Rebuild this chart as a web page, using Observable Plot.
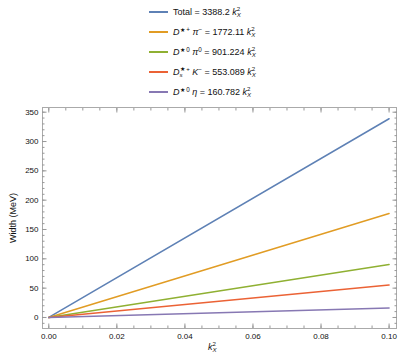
<!DOCTYPE html>
<html>
<head>
<meta charset="utf-8">
<script src="https://cdn.jsdelivr.net/npm/d3@7"></script>
<script src="https://cdn.jsdelivr.net/npm/@observablehq/plot@0.6"></script>
<style>
  html, body { margin: 0; padding: 0; background: #fff; }
  #wrap { position: relative; width: 407px; height: 359px; font-family: "Liberation Sans", Arial, sans-serif; }
  #legend { position: absolute; left: 149px; top: 2px; font-size: 9px; color: #111; }
  .row { display: flex; align-items: center; height: 20px; }
  .sw { width: 19px; height: 2px; margin-right: 5px; flex: none; }
  .ss { display: inline-block; vertical-align: -0.35em; line-height: 0.95em; font-size: 68%; text-align: left; }
  sup.s { font-size: 70%; vertical-align: 0.45em; line-height: 0; }
  #xlab { position: absolute; left: 208px; top: 341px; font-size: 9px; color: #111; }
  svg { display: block; }
</style>
</head>
<body>
<div id="wrap"><div id="chart"></div><div id="legend"></div><div id="xlab"><i>k</i><span class="ss">2<br><i>X</i></span></div></div>
<script>
const seriesNames = ["Total", "D*+ π−", "D*0 π0", "Ds*+ K−", "D*0 η"];
const seriesHtml = [
  "Total",
  "<i>D</i><sup class='s'>★ +</sup> <i>π</i><sup class='s'>−</sup>",
  "<i>D</i><sup class='s'>★ 0</sup> <i>π</i><sup class='s'>0</sup>",
  "<i>D</i><span class='ss'>★ +<br><i>s</i></span> <i>K</i><sup class='s'>−</sup>",
  "<i>D</i><sup class='s'>★ 0</sup> <i>η</i>"
];
const coefficients = ["3388.2", "1772.11", "901.224", "553.089", "160.782"];
const colors = ["#5E81B5", "#E19C24", "#8FB032", "#EB6235", "#8778B3"];
const kx2 = [0, 0.1];
const widthTotal = [0, 338.82];
const widthDpPim = [0, 177.211];
const widthD0Pi0 = [0, 90.1224];
const widthDsK = [0, 55.3089];
const widthD0Eta = [0, 16.0782];
const widths = [widthTotal, widthDpPim, widthD0Pi0, widthDsK, widthD0Eta];

const xMajor = [0, 0.02, 0.04, 0.06, 0.08, 0.10];
const xMinor = d3.range(0, 0.1001, 0.005);
const yMajor = [0, 50, 100, 150, 200, 250, 300, 350];
const yMinor = d3.range(-10, 351, 10);

const rows = [];
seriesNames.forEach((s, i) => kx2.forEach((x, j) => rows.push({series: s, x, y: widths[i][j]})));

const tickColor = "#999";
const chart = Plot.plot({
  width: 407,
  height: 359,
  marginTop: 107,
  marginBottom: 31,
  marginLeft: 42,
  marginRight: 11,
  style: {fontFamily: "'Liberation Sans', Arial, sans-serif", fontSize: "8px", color: "#111"},
  x: {domain: [-0.00185, 0.10218]},
  y: {domain: [-18.8, 358]},
  color: {domain: seriesNames, range: colors},
  marks: [
    Plot.frame({stroke: "#aaa"}),
    Plot.axisX(xMinor, {anchor: "bottom", tickSize: -2.5, text: null, stroke: tickColor, label: null}),
    Plot.axisX(xMajor, {anchor: "bottom", tickSize: -4.5, text: null, stroke: tickColor, label: null}),
    Plot.axisX(xMinor, {anchor: "top", tickSize: -2.5, text: null, stroke: tickColor, label: null}),
    Plot.axisX(xMajor, {anchor: "top", tickSize: -4.5, text: null, stroke: tickColor, label: null}),
    Plot.axisY(yMinor, {anchor: "left", tickSize: -2.5, text: null, stroke: tickColor, label: null}),
    Plot.axisY(yMajor, {anchor: "left", tickSize: -4.5, text: null, stroke: tickColor, label: null}),
    Plot.axisY(yMinor, {anchor: "right", tickSize: -2.5, text: null, stroke: tickColor, label: null}),
    Plot.axisY(yMajor, {anchor: "right", tickSize: -4.5, text: null, stroke: tickColor, label: null}),
    Plot.axisX(xMajor, {anchor: "bottom", tickSize: 0, tickPadding: 5, tickFormat: d3.format(".2f"), label: null, fill: "#111"}),
    Plot.axisY(yMajor, {anchor: "left", tickSize: 0, tickPadding: 4, label: "Width (MeV)", labelAnchor: "center", labelArrow: "none", labelOffset: 33, fill: "#111"}),
    Plot.line(rows, {x: "x", y: "y", z: "series", stroke: "series", strokeWidth: 1.5})
  ]
});
chart.querySelectorAll("[aria-label='y-axis label'] text").forEach(t => t.setAttribute("font-size", "9px"));
document.getElementById("chart").append(chart);

const legend = document.getElementById("legend");
seriesNames.forEach((s, i) => {
  const r = document.createElement("div");
  r.className = "row";
  r.innerHTML = `<div class="sw" style="background:${colors[i]}"></div><span>${seriesHtml[i]} = ${coefficients[i]} <i>k</i><span class="ss">2<br><i>X</i></span></span>`;
  legend.append(r);
});
</script>
</body>
</html>
